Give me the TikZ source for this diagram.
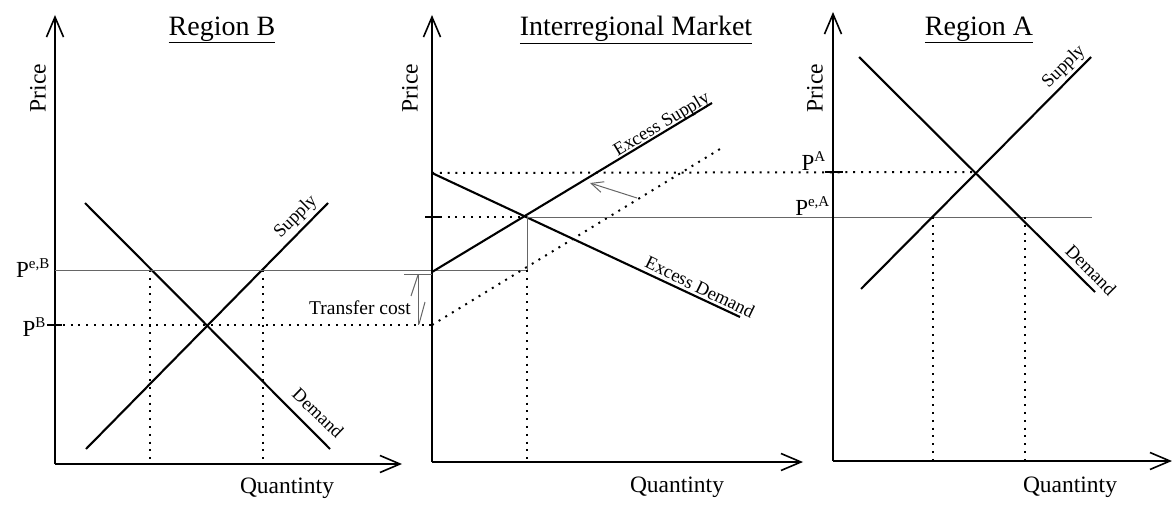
\documentclass[tikz,border=0pt]{standalone}
\usepackage{fontspec}
\setmainfont{Liberation Serif}
\usetikzlibrary{arrows.meta}

\begin{document}
\begin{tikzpicture}[x=1pt,y=-1pt,
  axis/.style={line width=1.9pt,-{Straight Barb[length=20pt,width=17pt,line width=1.6pt]}},
  curve/.style={line width=2.1pt},
  guide/.style={line width=2pt,dash pattern=on 2pt off 5.8pt},
  thinline/.style={line width=1pt,black!60},
  tick/.style={line width=1.6pt},
  ttl/.style={font=\fontsize{28}{28}\selectfont},
  axlbl/.style={font=\fontsize{23.5}{23.5}\selectfont,inner sep=0pt},
  crvlbl/.style={font=\fontsize{18.5}{18.5}\selectfont,inner sep=0pt},
  plbl/.style={font=\fontsize{23}{23}\selectfont,inner sep=0pt,anchor=east}
]
\useasboundingbox (0,0) rectangle (1172,505);

% Region B
\coordinate (oB) at (55,464);
\draw[axis] (oB) -- (55,15);
\draw[axis] (oB) -- (402,464);
\node[ttl] (ttlB) at (222,30) {\underline{Region B}};
\node[axlbl,rotate=90] (priceB) at (38,88) {Price};
\node[axlbl] (qtyB) at (287,488) {Quantinty};
\coordinate (dB1) at (85,203);
\coordinate (dB2) at (330,449);
\coordinate (sB1) at (86,449);
\coordinate (sB2) at (328,203);
\draw[curve] (dB1) -- (dB2);
\draw[curve] (sB1) -- (sB2);
\node[crvlbl,rotate=45] (supB) at (296,217) {Supply};
\node[crvlbl,rotate=-44] (demB) at (318,413) {Demand};
\draw[guide] (150,270) -- (150,464);
\draw[guide] (263,270) -- (263,464);
\draw[guide] (55,325) -- (432,325);
\draw[thinline] (55,270) -- (527,270);
\draw[tick] (47,325) -- (62,325);
\node[plbl] (peB) at (50,268) {P\textsuperscript{\fontsize{15}{15}\selectfont e,B}};
\node[plbl] (pB) at (46,327) {P\textsuperscript{\fontsize{15}{15}\selectfont B}};

% Interregional market
\coordinate (oM) at (432,462);
\draw[axis] (oM) -- (432,15);
\draw[axis] (oM) -- (803,462);
\node[ttl] (ttlM) at (636,30) {\underline{Interregional Market}};
\node[axlbl,rotate=90] (priceM) at (410,88) {Price};
\node[axlbl] (qtyM) at (677,487) {Quantinty};
\coordinate (ed1) at (432,173);
\coordinate (ed2) at (740,317);
\coordinate (es1) at (432,272);
\coordinate (es2) at (712,103);
\coordinate (ts1) at (432,325);
\coordinate (ts2) at (720,149);
\draw[curve] (ed1) -- (ed2);
\draw[curve] (es1) -- (es2);
\draw[guide] (ts1) -- (ts2);
\node[crvlbl,rotate=31] (esLbl) at (662,125) {Excess Supply};
\node[crvlbl,rotate=-26] (edLbl) at (700,287) {Excess Demand};
\draw[guide] (432,173) -- (978,172);
\draw[guide] (432,217) -- (527,217);
\draw[thinline] (527,217) -- (1092,217);
\draw[thinline] (527,217) -- (527,270);
\draw[guide] (527,270) -- (527,462);
\draw[tick] (425,217) -- (441,217);
\draw[thinline,-{Straight Barb[length=12pt,width=11pt]}] (637,198) -- (590,183);
% transfer cost
\draw[thinline] (404,274) -- (432,274);
\draw[thinline] (418,274) -- (418,325);
\draw[thinline] (418,275) -- (411,296);
\draw[thinline] (419,324) -- (425,302);
\node[font=\fontsize{19.5}{19.5}\selectfont,inner sep=0pt] (tcost) at (360,308) {Transfer cost};

% Region A
\coordinate (oA) at (833,461);
\draw[axis] (oA) -- (833,12);
\draw[axis] (oA) -- (1172,461);
\node[ttl] (ttlA) at (979,30) {\underline{Region A}};
\node[axlbl,rotate=90] (priceA) at (815,88) {Price};
\node[axlbl] (qtyA) at (1070,487) {Quantinty};
\coordinate (dA1) at (859,57);
\coordinate (dA2) at (1095,292);
\coordinate (sA1) at (861,289);
\coordinate (sA2) at (1091,57);
\draw[curve] (dA1) -- (dA2);
\draw[curve] (sA1) -- (sA2);
\node[crvlbl,rotate=45] (supA) at (1064,67) {Supply};
\node[crvlbl,rotate=-45] (demA) at (1091,270) {Demand};
\draw[guide] (933,217) -- (933,461);
\draw[guide] (1025,217) -- (1025,461);
\draw[tick] (825,172) -- (843,172);
\node[plbl] (pA) at (826,161) {P\textsuperscript{\fontsize{15}{15}\selectfont A}};
\node[plbl] (peA) at (830,206) {P\textsuperscript{\fontsize{15}{15}\selectfont e,A}};
\end{tikzpicture}
\end{document}
